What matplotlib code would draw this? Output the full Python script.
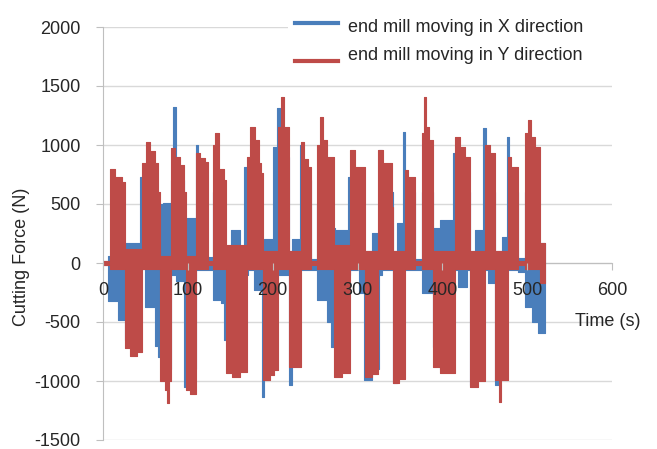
import matplotlib.pyplot as plt
from matplotlib.lines import Line2D
from matplotlib.patches import Rectangle

plt.rcParams['font.family'] = ['Liberation Sans', 'DejaVu Sans']
plt.rcParams['axes.unicode_minus'] = False

# envelope of the X-direction force signal (step, start time of each piece)
t_x = [0, 5.9, 17.7, 25.9, 43.6, 49.5, 61.3, 64.8, 70.7, 80.2,
       82.5, 86.1, 95.5, 102.6, 109.6, 112.0, 121.4, 129.7, 138.9, 142.7,
       150.9, 161.5, 166.2, 171.0, 178.0, 187.4, 190.0, 200.4, 205.1, 208.7,
       219.3, 222.9, 232.3, 234.6, 245.2, 252.3, 264.1, 268.8, 273.5, 288.9,
       291.2, 301.8, 307.7, 317.1, 325.4, 328.9, 341.9, 346.6, 353.7, 356.1,
       367.8, 376.1, 389.1, 397.3, 412.7, 415.0, 418.5, 429.2, 432.7, 438.6,
       448.0, 451.6, 453.9, 462.2, 465.7, 470.4, 476.3, 478.7, 489.3, 497.5,
       505.8, 512.9, 521.1]
hi_x = [15, 60, 60, 170, 728, 500, 500, 500, 508, 700,
        1320, 700, 380, 380, 1000, 700, 50, 600, 600, 100,
        280, 100, 813, 600, 600, 100, 200, 980, 1313, 900,
        100, 200, 1000, 700, 30, 500, 500, 300, 280, 728,
        500, 500, 100, 254, 957, 600, 100, 340, 1110, 600,
        30, 600, 300, 365, 930, 600, 600, 600, 100, 280,
        1143, 600, 600, 100, 100, 220, 1067, 600, 40, 600,
        600, 170, 170]
lo_x = [-15, -320, -480, -650, -50, -373, -700, -800, -900, -100,
        -100, -150, -1050, -900, -60, -60, -60, -313, -340, -652,
        -700, -600, -100, -60, -230, -1135, -900, -100, -100, -100,
        -1033, -850, -60, -60, -60, -313, -500, -711, -900, -100,
        -60, -254, -990, -900, -100, -60, -1016, -900, -60, -60,
        -60, -254, -711, -900, -60, -60, -200, -60, -1033, -900,
        -60, -60, -170, -1033, -900, -900, -60, -60, -80, -373,
        -500, -593, -593]

# envelope of the Y-direction force signal
t_y = [0, 8.3, 14.1, 22.4, 25.9, 31.8, 40.1, 46.0, 50.7, 55.4,
       61.3, 64.8, 67.2, 73.1, 75.5, 77.8, 80.2, 84.9, 90.8, 95.5,
       97.9, 102.6, 109.6, 114.4, 120.2, 123.8, 129.7, 132.0, 136.8, 142.7,
       145.0, 152.1, 161.5, 169.8, 173.3, 179.2, 183.9, 186.3, 188.6, 196.9,
       201.6, 206.3, 209.9, 213.4, 219.3, 233.4, 237.0, 241.7, 245.2, 252.3,
       255.8, 259.4, 264.1, 272.3, 281.7, 291.2, 297.1, 308.9, 317.1, 324.2,
       330.1, 340.7, 341.9, 349.0, 356.1, 359.6, 367.8, 376.1, 378.5, 380.8,
       384.4, 389.1, 397.3, 415.0, 420.9, 426.8, 432.7, 442.1, 450.4, 456.3,
       462.2, 466.9, 469.2, 477.5, 481.0, 489.3, 497.5, 501.1, 504.6, 509.3,
       515.2, 521.1]
hi_y = [15, 800, 730, 690, 120, 120, 120, 850, 1025, 950,
        850, 600, 60, 60, 60, 60, 975, 900, 830, 600,
        60, 60, 930, 890, 860, 15, 1000, 1100, 800, 700,
        150, 150, 150, 900, 1150, 1040, 850, 760, 100, 100,
        100, 1150, 1406, 1150, 100, 1025, 880, 810, 15, 1000,
        1237, 1040, 900, 150, 150, 957, 813, 100, 100, 957,
        847, 474, 100, 100, 790, 730, 15, 1100, 1406, 1150,
        1040, 100, 100, 1067, 980, 900, 100, 100, 1000, 930,
        100, 100, 100, 900, 813, 15, 1100, 1211, 1067, 980,
        170, 170]
lo_y = [-15, -50, -50, -50, -720, -790, -750, -50, -50, -50,
        -50, -50, -1000, -1080, -1190, -1000, -50, -50, -50, -50,
        -1080, -1110, -50, -50, -50, -15, -50, -50, -50, -50,
        -930, -965, -920, -50, -50, -50, -50, -50, -990, -950,
        -906, -50, -50, -50, -880, -50, -50, -50, -15, -50,
        -50, -50, -50, -965, -930, -50, -50, -965, -940, -50,
        -50, -50, -1016, -980, -50, -50, -15, -50, -50, -50,
        -50, -880, -930, -50, -50, -50, -1050, -1000, -50, -50,
        -990, -1177, -990, -50, -50, -15, -50, -50, -50, -50,
        -170, -170]

labels = ["end mill moving in X direction", "end mill moving in Y direction"]
colors = ["#4A7EBB", "#BE4B48"]
txt = "#262626"

fig = plt.figure(figsize=(6.57, 4.49), dpi=100)
ax = fig.add_axes([103/657, 9/449, 509/657, 413/449])

ax.fill_between(t_x, lo_x, hi_x, step='post', color=colors[0], lw=0.8)
ax.fill_between(t_y, lo_y, hi_y, step='post', color=colors[1], lw=0.8)

ax.set_xlim(0, 600)
ax.set_ylim(-1500, 2000)
ax.set_xticks(range(0, 601, 100))
ax.set_yticks(range(-1500, 2001, 500))
ax.yaxis.grid(True, color='#D9D9D9', lw=1)
ax.set_axisbelow(True)
ax.xaxis.set_zorder(5)

ax.spines['top'].set_visible(False)
ax.spines['right'].set_visible(False)
ax.spines['left'].set_color('#BFBFBF')
ax.spines['bottom'].set_position(('data', 0))
ax.spines['bottom'].set_color('#BFBFBF')
ax.spines['bottom'].set_zorder(0.6)
ax.tick_params(colors='#BFBFBF', labelcolor=txt, labelsize=13, length=5)
ax.tick_params(axis='x', pad=9)
ax.tick_params(axis='y', pad=11)

ax.set_ylabel("Cutting Force (N)", fontsize=13, color=txt)
ax.yaxis.set_label_coords(-0.143, 0.443)
ax.text(0.927, 0.286, "Time (s)", transform=ax.transAxes, fontsize=13,
        color=txt, ha='left', va='center', clip_on=False)

# legend, drawn by hand like the original
W, H = 657, 449
fig.add_artist(Rectangle((288/W, 1 - 72/H), 340/W, 64/H, transform=fig.transFigure,
                         facecolor='white', edgecolor='none', zorder=3))
for i, (lab, c) in enumerate(zip(labels, colors)):
    yl = [23, 61][i]
    yt = [28, 55][i]
    fig.add_artist(Line2D([295/W, 338/W], [1 - yl/H, 1 - yl/H], transform=fig.transFigure,
                          color=c, lw=3, zorder=4))
    fig.text(348/W, 1 - yt/H, lab, fontsize=13, color=txt, ha='left', va='center', zorder=4)

fig.savefig("out.png", dpi=100)
